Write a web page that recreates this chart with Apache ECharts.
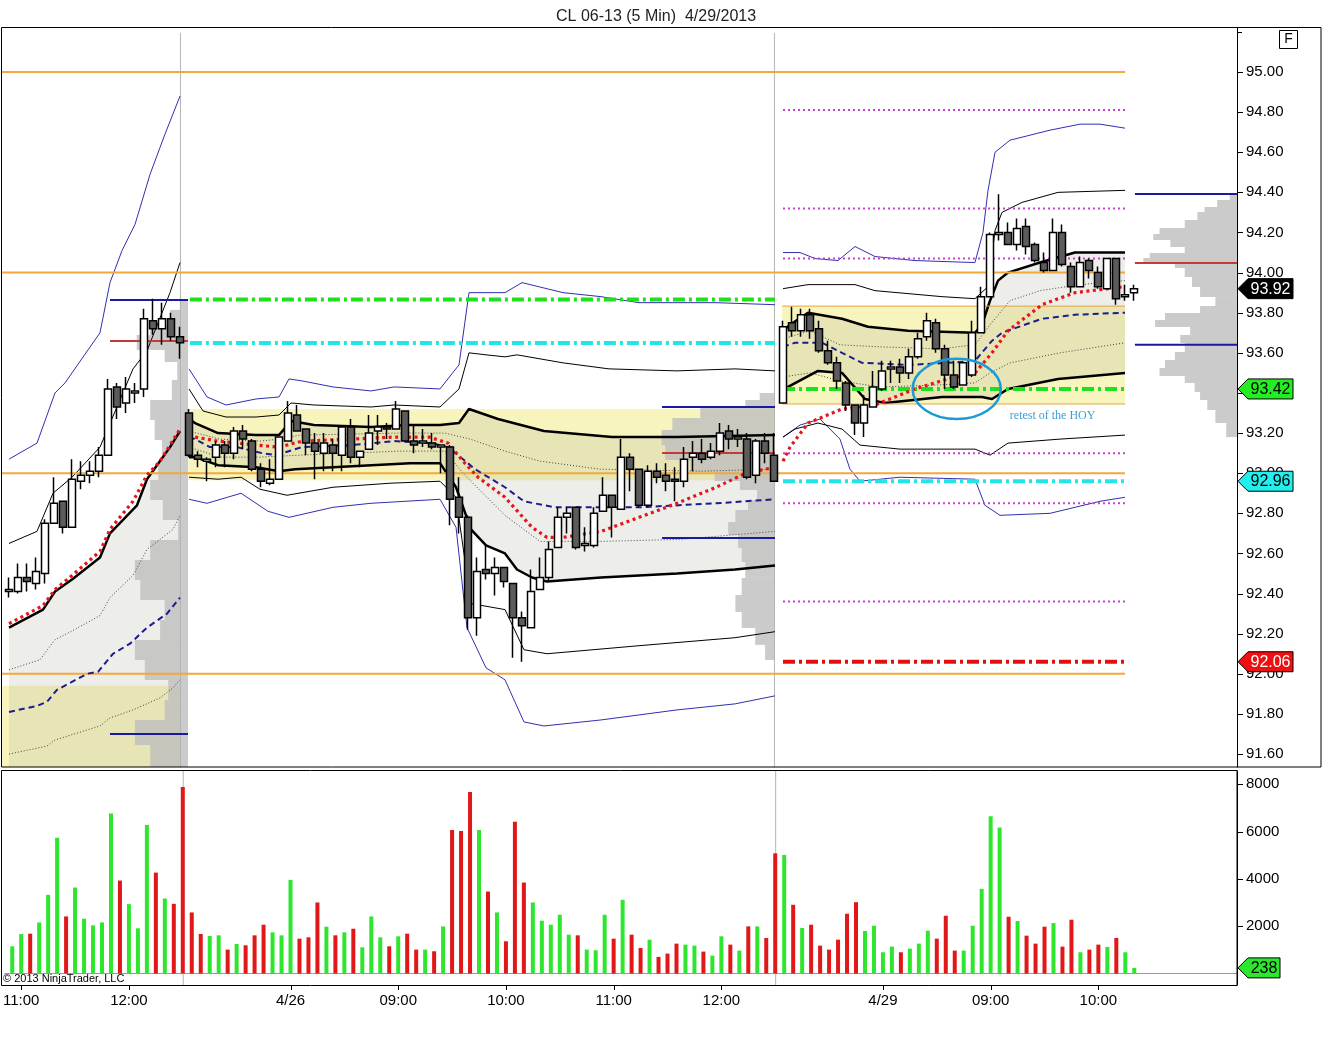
<!DOCTYPE html>
<html><head><meta charset="utf-8">
<script src="https://cdn.jsdelivr.net/npm/echarts@6/dist/echarts.min.js"></script>
<style>html,body{margin:0;padding:0;background:#fff}#c{width:1322px;height:1050px}</style>
</head><body><div id="c"></div>
<script>
// ---------- DATA ----------
const xTickIdx = [1,13,31,43,55,67,79,97,109,121];
const xTickLabels = ['11:00','12:00','4/26','09:00','10:00','11:00','12:00','4/29','09:00','10:00'];
const priceTicks = [91.6,91.8,92.0,92.2,92.4,92.6,92.8,93.0,93.2,93.4,93.6,93.8,94.0,94.2,94.4,94.6,94.8,95.0];
const volTicks = [2000,4000,6000,8000];

// candles: [open, close, low, high]
const candles = [
[92.41,92.42,92.38,92.48],[92.41,92.48,92.40,92.55],[92.48,92.46,92.41,92.55],[92.45,92.51,92.42,92.58],[92.50,92.75,92.45,92.77],
[92.75,92.85,92.75,92.98],[92.86,92.73,92.70,92.86],[92.73,92.97,92.73,93.07],[92.96,92.99,92.92,93.06],[92.99,93.01,92.95,93.06],
[93.01,93.09,92.98,93.13],[93.09,93.42,93.09,93.47],[93.43,93.33,93.27,93.45],[93.35,93.42,93.30,93.48],[93.40,93.41,93.35,93.45],
[93.42,93.77,93.38,93.82],[93.76,93.72,93.69,93.87],[93.72,93.77,93.64,93.85],[93.77,93.68,93.66,93.80],[93.68,93.65,93.57,93.73],
[93.30,93.09,93.08,93.32],[93.09,93.07,93.03,93.11],[93.06,93.07,92.96,93.08],[93.08,93.14,93.03,93.16],[93.14,93.10,93.03,93.16],
[93.10,93.21,93.07,93.23],[93.21,93.17,93.12,93.24],[93.16,93.02,93.01,93.17],[93.02,92.96,92.93,93.05],[92.95,92.97,92.94,93.07],
[92.97,93.18,92.97,93.18],[93.16,93.30,93.16,93.36],[93.29,93.21,93.21,93.34],[93.22,93.15,93.09,93.22],[93.15,93.11,92.97,93.20],
[93.10,93.15,93.01,93.20],[93.14,93.10,93.01,93.17],[93.09,93.23,93.01,93.24],[93.23,93.08,93.05,93.27],[93.08,93.11,93.03,93.11],
[93.12,93.20,93.12,93.29],[93.21,93.23,93.14,93.29],[93.23,93.22,93.17,93.25],[93.22,93.32,93.22,93.36],[93.31,93.16,93.16,93.31],
[93.16,93.14,93.10,93.24],[93.15,93.16,93.13,93.22],[93.15,93.13,93.12,93.20],[93.13,93.14,93.00,93.14],[93.13,92.87,92.74,93.14],
[92.88,92.78,92.70,92.98],[92.78,92.28,92.22,92.79],[92.28,92.51,92.19,92.58],[92.52,92.50,92.47,92.64],[92.50,92.53,92.39,92.58],
[92.53,92.46,92.43,92.53],[92.45,92.28,92.08,92.45],[92.28,92.24,92.06,92.31],[92.23,92.41,92.23,92.52],[92.42,92.48,92.42,92.58],
[92.48,92.62,92.46,92.66],[92.63,92.78,92.63,92.83],[92.78,92.80,92.70,92.83],[92.83,92.63,92.62,92.83],[92.64,92.65,92.61,92.73],
[92.64,92.80,92.63,92.83],[92.81,92.89,92.81,92.98],[92.89,92.83,92.68,92.89],[92.82,93.08,92.82,93.17],[93.08,93.02,92.91,93.10],
[93.02,92.84,92.83,93.02],[92.84,93.01,92.83,93.04],[93.01,92.98,92.95,93.05],[92.99,92.96,92.91,93.05],[92.97,92.96,92.86,93.03],
[92.96,93.07,92.93,93.13],[93.08,93.10,93.01,93.16],[93.10,93.07,93.05,93.17],[93.08,93.11,93.07,93.15],[93.11,93.20,93.09,93.25],
[93.21,93.17,93.12,93.24],[93.17,93.18,93.13,93.22],[93.17,92.98,92.97,93.20],[92.99,93.16,92.95,93.17],[93.16,93.10,93.05,93.20],
[93.09,92.96,92.96,93.20],
[93.35,93.73,93.35,93.76],[93.75,93.71,93.68,93.83],[93.71,93.79,93.68,93.82],[93.79,93.71,93.67,93.82],[93.72,93.61,93.60,93.76],
[93.61,93.55,93.54,93.66],[93.55,93.46,93.42,93.58],[93.45,93.34,93.31,93.46],[93.34,93.25,93.19,93.34],[93.25,93.34,93.18,93.39],
[93.33,93.43,93.33,93.51],[93.42,93.51,93.41,93.56],[93.52,93.53,93.45,93.56],[93.53,93.50,93.45,93.57],[93.50,93.58,93.47,93.62],
[93.58,93.67,93.57,93.70],[93.68,93.76,93.66,93.80],[93.75,93.62,93.60,93.77],[93.62,93.49,93.42,93.64],[93.49,93.43,93.42,93.56],
[93.44,93.55,93.44,93.55],[93.49,93.70,93.48,93.76],[93.70,93.88,93.70,93.93],[93.88,94.19,93.88,94.20],[94.19,94.20,94.16,94.39],
[94.20,94.14,94.14,94.25],[94.14,94.22,94.11,94.27],[94.23,94.13,94.09,94.27],[94.14,94.06,94.05,94.15],[94.05,94.01,94.00,94.10],
[94.01,94.20,94.01,94.27],[94.20,94.04,94.03,94.24],[94.03,93.93,93.90,94.05],[93.93,94.05,93.93,94.08],[94.06,94.01,93.97,94.07],
[94.00,93.93,93.92,94.03],[93.92,94.07,93.92,94.07],[94.07,93.87,93.84,94.07],[93.88,93.89,93.86,93.94],[93.90,93.92,93.86,93.94]
];
const volumes = [
1150,1670,1684,2160,3326,5740,2414,3635,2316,2035,2160,6765,3930,2933,1910,6274,4267,3172,2947,7887,
2582,1670,1586,1614,1010,1249,1193,1614,2063,1740,1614,3958,1473,1530,3004,1979,1614,1740,1894,1109,
2414,1530,1150,1572,1684,1010,1010,940,1993,6063,6021,7677,6063,3466,2582,1362,6414,3846,3004,2232,
2063,2484,1642,1614,1010,982,2484,1473,3116,1642,1080,1431,702,842,1263,1221,1179,926,758,1572,
1221,968,1993,1993,1502,5081,
5010,2905,1923,2063,1179,1010,1431,2526,3017,1796,2021,898,1137,898,1053,1263,1810,1473,2442,968,
968,2021,3579,6653,6175,2400,2217,1600,1263,1979,2133,1137,2274,898,1010,1221,1123,1502,898,238
];

// indicator lines: [bar index, price]
const blueUp1 = [[0,93.07],[3.11,93.15],[5.11,93.40],[6.22,93.45],[10.11,93.70],[11.22,93.95],[12.56,94.11],[14,94.24],[15.67,94.49],[17.33,94.69],[19,94.88]];
const blk2Up1 = [[0,92.65],[3.11,92.71],[4.89,92.90],[7,92.98],[10.11,93.13],[13.78,93.52],[15.33,93.61],[17.89,93.90],[19,94.05]];
const blk1Up1 = [[0,92.23],[3.78,92.32],[5.11,92.41],[7,92.47],[10.11,92.58],[11.22,92.70],[14.22,92.84],[15.33,92.97],[17.89,93.13],[19,93.21]];
const blk1Dn1 = [[0,91.20],[19,91.30]];
const ema1 = [[0,92.25],[3.78,92.34],[5.11,92.42],[7,92.49],[10.11,92.61],[11.22,92.72],[13.78,92.86],[15.33,92.99],[16.78,93.06],[19,93.22]];
const dotUp1 = [[0,92.02],[3.44,92.07],[5.11,92.17],[6.44,92.20],[10.11,92.29],[11.22,92.38],[13.78,92.49],[15.33,92.62],[18.22,92.72],[19,92.79]];
const dotDn1 = [[0,91.60],[4.22,91.64],[5.11,91.67],[10.11,91.74],[11.22,91.78],[13.78,91.82],[16.78,91.88],[18.22,91.93],[19,91.97]];
const vwap1 = [[0,91.81],[3.11,91.84],[4.22,91.86],[5.33,91.92],[8.67,92.00],[9.89,92.01],[11.56,92.10],[13.44,92.15],[15.33,92.23],[17.56,92.30],[19,92.38]];

const blueUp2 = [[20,93.52],[22,93.38],[24.11,93.34],[27.44,93.37],[30,93.38],[31.11,93.47],[32.56,93.46],[36,93.43],[40.22,93.41],[42.78,93.43],[47.89,93.42],[50,93.54],[51.11,93.90],[55.11,93.90],[57,93.95],[61.56,93.90],[65.78,93.88],[70,93.85],[78.56,93.85],[85.11,93.84]];
const blk2Up2 = [[20,93.42],[21.56,93.31],[24.11,93.28],[27.44,93.28],[30,93.29],[31.33,93.35],[33.89,93.34],[40.22,93.33],[42.78,93.34],[47.89,93.33],[50,93.42],[51.11,93.60],[53,93.59],[55.11,93.58],[56.44,93.59],[61.56,93.55],[66.67,93.52],[74.22,93.51],[80.67,93.52],[85.11,93.51]];
const blk1Up2 = [[20,93.27],[20.67,93.25],[23.22,93.20],[27.44,93.19],[30,93.19],[31.33,93.26],[33.89,93.24],[40.22,93.23],[44.56,93.24],[47.89,93.24],[50,93.25],[51.11,93.32],[54.33,93.27],[59.44,93.21],[67,93.18],[74.22,93.18],[85.11,93.19]];
const vwap2 = [[20,93.18],[20.67,93.17],[22.33,93.13],[25.33,93.13],[28.11,93.10],[29.67,93.09],[32.56,93.13],[38.11,93.14],[42.78,93.16],[47,93.15],[48.78,93.13],[50.44,93.07],[51.78,93.02],[55.11,92.93],[57.22,92.86],[60.67,92.83],[70,92.83],[78.56,92.85],[85.11,92.87]];
const ema2 = [[20,93.19],[20.67,93.18],[23.22,93.16],[27.44,93.14],[30,93.13],[32.56,93.16],[38.11,93.17],[42.78,93.18],[46.67,93.18],[48.78,93.15],[50.44,93.06],[52.11,92.98],[55.11,92.88],[58.11,92.73],[59.78,92.68],[61.56,92.68],[65.78,92.71],[70,92.78],[74.22,92.85],[78.56,92.93],[81.89,93.00],[85.11,93.03]];
const dotUp2 = [[20,93.21],[23.44,93.17],[27.89,93.16],[30.11,93.17],[32.33,93.19],[43.44,93.20],[48.44,93.20],[51.22,93.17],[55.11,93.11],[59,93.06],[65.67,93.02],[76.78,93.01],[85.11,93.02]];
const dotDn2 = [[20,93.13],[23.44,93.08],[27.89,93.08],[32.33,93.09],[43.44,93.11],[48.44,93.11],[50.44,93.00],[55.11,92.79],[59,92.66],[65.67,92.66],[74.56,92.67],[85.11,92.71]];
const blk1Dn2 = [[20,93.08],[20.67,93.08],[23.22,93.04],[27.44,93.03],[30,93.01],[31.78,93.02],[36,93.03],[44.56,93.05],[47.89,93.05],[49.67,92.93],[51.33,92.72],[53,92.64],[55.11,92.60],[56.44,92.52],[58.11,92.48],[59.78,92.46],[65.78,92.48],[74.22,92.50],[80.67,92.52],[85.11,92.54]];
const blk2Dn2 = [[20,92.98],[23.22,92.97],[25.78,92.98],[27.89,92.92],[30.89,92.89],[36,92.93],[42.33,92.95],[47.89,92.96],[49.67,92.88],[50.33,92.67],[51.33,92.35],[55.11,92.32],[57.22,92.12],[59.78,92.10],[70,92.14],[80.67,92.18],[85.11,92.21]];
const blueDn2 = [[20,92.87],[22,92.85],[25.78,92.90],[28.78,92.81],[31.11,92.78],[36,92.83],[40.22,92.85],[47.89,92.87],[49.67,92.73],[50.89,92.23],[53,92.03],[55.11,91.97],[57.22,91.76],[59.44,91.74],[65.78,91.77],[74.22,91.82],[80.67,91.85],[85.11,91.89]];

const blueUp3 = [[86,94.10],[87.89,94.10],[89.56,94.07],[92.11,94.06],[94,94.13],[96.22,94.08],[100.67,94.06],[107.33,94.05],[108.22,94.20],[108.78,94.41],[109.56,94.60],[111.22,94.66],[115.67,94.71],[119,94.74],[121.22,94.74],[124,94.72]];
const blk2Up3 = [[86,93.92],[88.78,93.94],[94,93.94],[96.22,93.91],[103.67,93.88],[107.33,93.87],[108.78,93.93],[109.56,94.21],[110.33,94.30],[112.56,94.35],[116.56,94.40],[124,94.41]];
const blk1Up3 = [[86,93.71],[86.78,93.74],[88.78,93.80],[92.56,93.77],[95.44,93.73],[99.89,93.71],[107.33,93.70],[108.11,93.74],[109,93.86],[109.89,93.96],[111,94.00],[114.56,94.05],[118.44,94.10],[124,94.10]];
const vwap3 = [[86,93.63],[87.33,93.65],[90.33,93.65],[92.56,93.60],[94.78,93.55],[99.89,93.54],[104.33,93.55],[107.33,93.56],[109.22,93.66],[110.33,93.70],[114.78,93.77],[118.44,93.79],[124,93.80]];
const ema3 = [[86,93.06],[86.78,93.13],[88.78,93.25],[92.56,93.32],[96.22,93.34],[100.67,93.42],[104.33,93.47],[107.33,93.50],[109.22,93.60],[111,93.71],[114.78,93.84],[118.44,93.90],[122.11,93.92],[124,93.93]];
const dotUp3 = [[86,93.67],[89,93.71],[92.33,93.64],[96.78,93.63],[103.44,93.62],[107.33,93.64],[109,93.74],[111.22,93.86],[114.56,93.91],[119,93.94],[124,93.96]];
const dotDn3 = [[86,93.48],[89,93.50],[92.33,93.46],[96.78,93.43],[103.44,93.44],[107.33,93.45],[109,93.50],[111.22,93.55],[116.78,93.60],[124,93.65]];
const blk1Dn3 = [[86,93.39],[86.56,93.43],[89.89,93.51],[92.56,93.50],[95.11,93.37],[97.33,93.35],[103.67,93.38],[108.11,93.38],[109.22,93.37],[111,93.42],[116.56,93.47],[124,93.50]];
const blk2Dn3 = [[86,93.18],[87.33,93.22],[89.89,93.25],[92.56,93.22],[94.56,93.14],[99,93.12],[107.33,93.12],[109,93.09],[111,93.15],[116.78,93.17],[124,93.19]];
const blueDn3 = [[86,93.18],[87.89,93.24],[90.11,93.27],[92.33,93.17],[93.44,93.02],[94.56,92.96],[99,92.98],[107.33,92.97],[108.44,92.84],[110.11,92.79],[115.67,92.80],[121.22,92.86],[124,92.88]];

// value-area zones [fromIdx, toIdx, priceLow, priceHigh]
const yellowZones = [[-0.9,19.05,91.2,91.94],[19.93,85.1,92.965,93.32],[85.9,124,93.345,93.833]];

// volume profiles [priceLow, priceHigh, length in bars]
const profileAnchors = [19.89, 85.11, 136.44];
const prof1 = [[93.814,93.868,0.9],[93.739,93.814,2.0],[93.689,93.739,4.2],[93.614,93.689,5.7],[93.554,93.614,2.6],[93.465,93.554,1.2],[93.365,93.465,1.8],[93.265,93.365,4.2],[93.166,93.265,3.7],[93.066,93.166,2.9],[92.966,93.066,3.3],[92.866,92.966,4.2],[92.767,92.866,2.8],[92.667,92.767,1.1],[92.567,92.667,4.2],[92.468,92.567,5.9],[92.368,92.468,5.3],[92.268,92.368,2.6],[92.168,92.268,3.1],[92.069,92.168,5.9],[91.969,92.069,4.8],[91.869,91.969,2.2],[91.770,91.869,2.6],[91.645,91.770,5.9],[91.50,91.645,4.2]];
const prof2 = [[93.365,93.40,1.7],[93.33,93.365,3.3],[93.275,93.33,8.3],[93.215,93.275,11.4],[93.141,93.215,12.6],[93.066,93.141,12.2],[93.006,93.066,9.4],[92.961,93.006,6.7],[92.916,92.961,3.9],[92.866,92.916,2.0],[92.817,92.866,3.0],[92.757,92.817,4.4],[92.692,92.757,5.2],[92.627,92.692,4.1],[92.557,92.627,3.7],[92.478,92.557,3.3],[92.393,92.478,3.7],[92.308,92.393,4.4],[92.228,92.308,3.7],[92.144,92.228,2.2],[92.069,92.144,1.1]];
const prof3 = [[94.362,94.387,0.8],[94.327,94.362,2.2],[94.302,94.327,3.6],[94.262,94.302,4.4],[94.222,94.262,5.8],[94.192,94.222,8.6],[94.163,94.192,9.3],[94.128,94.163,7.4],[94.098,94.128,5.8],[94.073,94.098,9.7],[94.048,94.073,10.4],[94.023,94.048,6.9],[93.978,94.023,5.8],[93.928,93.978,5.0],[93.878,93.928,4.1],[93.833,93.878,2.4],[93.799,93.833,4.1],[93.764,93.799,8.0],[93.729,93.764,9.1],[93.689,93.729,5.2],[93.649,93.689,6.3],[93.604,93.649,5.8],[93.564,93.604,6.9],[93.524,93.564,8.0],[93.485,93.524,8.6],[93.450,93.485,5.8],[93.405,93.450,4.7],[93.365,93.405,4.1],[93.315,93.365,3.3],[93.250,93.315,2.4],[93.180,93.250,1.2]];

// horizontal levels
const orangeLv = [95.00, 94.00, 93.00, 92.00];
const vaEdges3 = [93.833, 93.345];
const greenLv = [[93.866,20.1,85.1],[93.42,86,124]];
const cyanLv = [[93.649,20.1,85.1],[92.96,86,124]];
const redLv = [[92.06,86,124]];
const magentaLv = [94.81,94.32,94.07,93.10,92.85,92.36];
const navyLv = [[93.863,11.22,19.89],[91.70,11.22,19.89],[93.33,72.56,85.11],[92.677,72.56,85.11],[94.392,125.1,136.44],[93.64,125.1,136.44]];
const pocLv = [[93.659,11.22,19.89],[93.101,72.56,85.11],[94.048,125.1,136.44]];
const sessionBreaks = [19.05, 85.05];
const priceTags = [[93.92,'#000000','#ffffff'],[93.42,'#22ee22','#000000'],[92.96,'#22eeee','#000000'],[92.06,'#ee1111','#ffffff']];
const volTag = 238;

// ---------- CHART ----------
const X_MIN = -0.889, X_MAX = 136.444;
const P_MIN = 91.5354, P_MAX = 95.2193;
const V_MIN = -486, V_MAX = 8562;
const FONT = 'Liberation Sans, Arial, sans-serif';
const GREEN = '#2ee62e', RED = '#e01818';

const chart = echarts.init(document.getElementById('c'), null, {renderer:'canvas'});
const series = [];

function ln(data, style, z){
  series.push({type:'line', xAxisIndex:0, yAxisIndex:0, data, symbol:'none', showSymbol:false, silent:true, animation:false, lineStyle:style, z:z||4});
}
function seg(p, a, b, style, z){ ln([[a,p],[b,p]], style, z||5); }

// yellow value areas
series.push({type:'custom', xAxisIndex:0, yAxisIndex:0, z:1, silent:true, clip:true, data:yellowZones, encode:{x:[0,1], y:[2,3]},
  renderItem:(params, api)=>{
    const p1 = api.coord([api.value(0), api.value(3)]);
    const p2 = api.coord([api.value(1), api.value(2)]);
    return {type:'rect', shape:{x:p1[0], y:p1[1], width:p2[0]-p1[0], height:p2[1]-p1[1]}, style:{fill:'#f8f4bd'}};
  }});
// gray fill between 1st bands
const fills = [[blk1Up1, blk1Dn1],[blk1Up2, blk1Dn2],[blk1Up3, blk1Dn3]];
series.push({type:'custom', xAxisIndex:0, yAxisIndex:0, z:2, silent:true, clip:true, data:[[0,0,93],[1,20,93],[2,86,93]], encode:{x:1, y:2},
  renderItem:(params, api)=>{
    const f = fills[api.value(0)];
    const pts = f[0].map(d=>api.coord(d)).concat(f[1].slice().reverse().map(d=>api.coord(d)));
    return {type:'polygon', shape:{points:pts}, style:{fill:'rgba(165,165,150,0.2)'}};
  }});
// volume profiles
const profRows = [];
[prof1, prof2, prof3].forEach((pr, s)=>pr.forEach(r=>profRows.push([profileAnchors[s], r[0], r[1], r[2]])));
series.push({type:'custom', xAxisIndex:0, yAxisIndex:0, z:3, silent:true, clip:true, data:profRows, encode:{x:0, y:[1,2]},
  renderItem:(params, api)=>{
    const a = api.value(0), w = api.value(3);
    const p1 = api.coord([a - w, api.value(2)]);
    const p2 = api.coord([a, api.value(1)]);
    return {type:'rect', shape:{x:p1[0], y:p1[1], width:p2[0]-p1[0], height:p2[1]-p1[1]}, style:{fill:'rgba(190,190,190,0.8)'}};
  }});

// session separators (price pane)
sessionBreaks.forEach(b=>ln([[b,95.195],[b,P_MIN-0.1]], {color:'#b4b4b4', width:1}, 3));

// levels
orangeLv.forEach(p=>seg(p, X_MIN, 124, {color:'#f3a83b', width:2}));
vaEdges3.forEach(p=>seg(p, 85.9, 124, {color:'#e9a240', width:1}));
magentaLv.forEach(p=>seg(p, 86, 124, {color:'#c642d2', width:2, type:[2,3]}));
const dd = [12,4,3,4];
greenLv.forEach(l=>seg(l[0], l[1], l[2], {color:'#1fe01f', width:4, type:dd}));
cyanLv.forEach(l=>seg(l[0], l[1], l[2], {color:'#22e6e6', width:4, type:dd}));
redLv.forEach(l=>seg(l[0], l[1], l[2], {color:'#e01010', width:4, type:dd}));
navyLv.forEach(l=>seg(l[0], l[1], l[2], {color:'#1a1aa0', width:2}));
pocLv.forEach(l=>seg(l[0], l[1], l[2], {color:'#c43a3a', width:2}));

// indicator bands
const BLUE = {color:'#3030b0', width:1};
const THIN = {color:'#000', width:1};
const THICK = {color:'#000', width:2.5};
const DOT = {color:'#444', width:1, type:[1,2]};
const VW = {color:'#1c1c8c', width:2, type:[6,4]};
const EMA = {color:'#e8141c', width:3.2, type:[3,3.5]};
[blueUp1, blueUp2, blueDn2, blueUp3, blueDn3].forEach(d=>ln(d, BLUE));
[blk2Up1, blk2Up2, blk2Dn2, blk2Up3, blk2Dn3].forEach(d=>ln(d, THIN));
[dotUp1, dotDn1, dotUp2, dotDn2, dotUp3, dotDn3].forEach(d=>ln(d, DOT));
[blk1Up1, blk1Up2, blk1Dn2, blk1Up3, blk1Dn3].forEach(d=>ln(d, THICK));
[vwap1, vwap2, vwap3].forEach(d=>ln(d, VW, 6));
[ema1, ema2, ema3].forEach(d=>ln(d, EMA, 6));

// candles
series.push({type:'candlestick', xAxisIndex:0, yAxisIndex:0, z:10, silent:true, animation:false,
  data: candles.map((d,i)=>[i, d[0], d[1], d[2], d[3]]), encode:{x:0, y:[1,2,3,4]}, barWidth:7,
  itemStyle:{color:'#ffffff', color0:'#5c5c5c', borderColor:'#000', borderColor0:'#000', borderWidth:1.5}});

// volume
series.push({type:'line', xAxisIndex:1, yAxisIndex:1, data:[[X_MIN,0],[X_MAX,0]], symbol:'none', silent:true, lineStyle:{color:'#9a9a9a', width:1}, z:2});
sessionBreaks.forEach(b=>series.push({type:'line', xAxisIndex:1, yAxisIndex:1, data:[[b,V_MIN],[b,V_MAX]], symbol:'none', silent:true, lineStyle:{color:'#b4b4b4', width:1}, z:2}));
series.push({type:'bar', xAxisIndex:1, yAxisIndex:1, barWidth:4, silent:true, z:5,
  data: volumes.map((v,i)=>({value:[i,v], itemStyle:{color: candles[i][1] >= candles[i][0] ? GREEN : RED}}))});

const option = {
  animation:false,
  backgroundColor:'#ffffff',
  textStyle:{fontFamily:FONT},
  title:{text:'CL 06-13 (5 Min)  4/29/2013', left:551, top:4, textStyle:{fontSize:16, fontWeight:'normal', color:'#222', fontFamily:FONT}},
  grid:[{left:1, right:85, top:28, height:739}, {left:1, right:85, top:771, height:214}],
  xAxis:[
    {type:'value', gridIndex:0, min:X_MIN, max:X_MAX, show:false},
    {type:'value', gridIndex:1, min:X_MIN, max:X_MAX, axisLine:{show:false, onZero:false}, splitLine:{show:false}, axisTick:{show:false},
     axisLabel:{customValues:xTickIdx, formatter:v=>xTickLabels[xTickIdx.indexOf(Math.round(v))] || '', fontSize:15, color:'#000', margin:8, fontFamily:FONT}}
  ],
  yAxis:[
    {type:'value', gridIndex:0, position:'right', min:P_MIN, max:P_MAX, splitLine:{show:false},
     axisLine:{show:true, onZero:false, lineStyle:{color:'#000'}}, axisTick:{show:false},
     axisLabel:{customValues:priceTicks, formatter:v=>Number(v).toFixed(2), fontSize:15, color:'#000', margin:9, fontFamily:FONT}},
    {type:'value', gridIndex:1, position:'right', min:V_MIN, max:V_MAX, splitLine:{show:false},
     axisLine:{show:true, onZero:false, lineStyle:{color:'#000'}}, axisTick:{show:false},
     axisLabel:{customValues:volTicks, formatter:v=>String(Math.round(v)), fontSize:15, color:'#000', margin:9, fontFamily:FONT}}
  ],
  series
};
chart.setOption(option);

// ---------- annotations ----------
const g = [];
g.push({type:'rect', shape:{x:1.5, y:27.5, width:1319.5, height:739.5}, style:{fill:null, stroke:'#000', lineWidth:1}, z:50, silent:true});
g.push({type:'rect', shape:{x:1.5, y:770.5, width:1235.5, height:215}, style:{fill:null, stroke:'#000', lineWidth:1}, z:50, silent:true});
g.push({type:'line', shape:{x1:1237.5, y1:32, x2:1237.5, y2:767}, style:{stroke:'#000', lineWidth:1}, z:50});
g.push({type:'rect', shape:{x:1279.5, y:30.5, width:18, height:18}, style:{fill:'#fff', stroke:'#000', lineWidth:1}, z:50});
g.push({type:'text', x:1288.5, y:39.5, style:{text:'F', fill:'#000', font:'14px '+FONT, align:'center', verticalAlign:'middle'}, z:51});
g.push({type:'text', x:3, y:979, style:{text:'\u00a9 2013 NinjaTrader, LLC', fill:'#000', font:'11px '+FONT, verticalAlign:'middle'}, z:51});
g.push({type:'line', shape:{x1:1237.5, y1:32.5, x2:1242, y2:32.5}, style:{stroke:'#000', lineWidth:1}, z:50});

// axis ticks through the axis scales
priceTicks.forEach(v=>{
  const y = Math.round(chart.convertToPixel({yAxisIndex:0}, v)) + 0.5;
  g.push({type:'line', shape:{x1:1237, y1:y, x2:1243, y2:y}, style:{stroke:'#000', lineWidth:1}, z:50});
});
volTicks.forEach(v=>{
  const y = Math.round(chart.convertToPixel({yAxisIndex:1}, v)) + 0.5;
  g.push({type:'line', shape:{x1:1237, y1:y, x2:1243, y2:y}, style:{stroke:'#000', lineWidth:1}, z:50});
});
xTickIdx.forEach(v=>{
  const x = Math.round(chart.convertToPixel({xAxisIndex:1}, v)) + 0.5;
  g.push({type:'line', shape:{x1:x, y1:986, x2:x, y2:990}, style:{stroke:'#000', lineWidth:1}, z:50});
});

function tag(y, bg, fg, txt, w){
  g.push({type:'polygon', shape:{points:[[1238,y],[1248,y-10],[1248+w,y-10],[1248+w,y+10],[1248,y+10]]}, style:{fill:bg, stroke:'#000', lineWidth:1}, z:60});
  g.push({type:'text', x:1248+w/2, y:y+0.5, style:{text:txt, fill:fg, font:'16px '+FONT, align:'center', verticalAlign:'middle'}, z:61});
}
priceTags.forEach(t=>tag(chart.convertToPixel({yAxisIndex:0}, t[0]), t[1], t[2], t[0].toFixed(2), 45));
tag(chart.convertToPixel({yAxisIndex:1}, volTag), GREEN, '#000', String(volTag), 32);

// ellipse around the HOY retest
const e1 = chart.convertToPixel({xAxisIndex:0, yAxisIndex:0}, [100.4, 93.57]);
const e2 = chart.convertToPixel({xAxisIndex:0, yAxisIndex:0}, [110.2, 93.27]);
g.push({type:'ellipse', shape:{cx:(e1[0]+e2[0])/2, cy:(e1[1]+e2[1])/2, rx:(e2[0]-e1[0])/2, ry:(e2[1]-e1[1])/2}, style:{fill:null, stroke:'#1b9ad8', lineWidth:2.5}, z:40});
const tp = chart.convertToPixel({xAxisIndex:0, yAxisIndex:0}, [111.2, 93.285]);
g.push({type:'text', x:tp[0], y:tp[1], style:{text:'retest of the HOY', fill:'#3aa0d8', font:'12px Liberation Serif, DejaVu Serif, serif', verticalAlign:'middle'}, z:41});

chart.setOption({graphic:g});
</script></body></html>
